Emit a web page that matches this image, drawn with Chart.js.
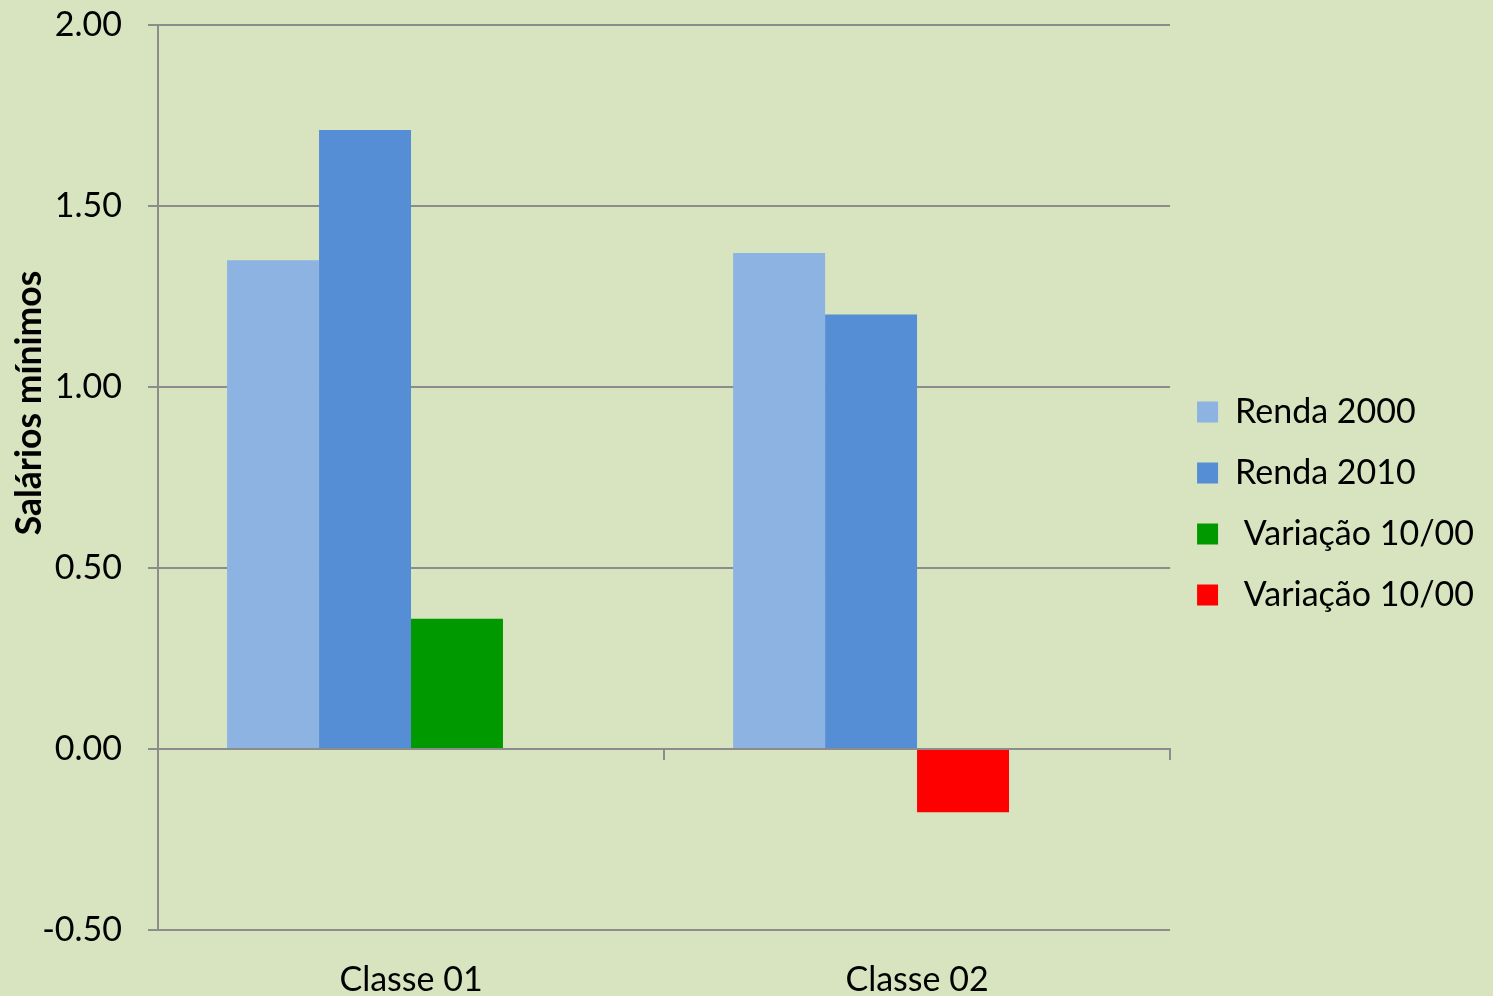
<!DOCTYPE html>
<html><head><meta charset="utf-8">
<script src="https://cdn.jsdelivr.net/npm/chart.js@4"></script>
<style>html,body{margin:0;padding:0;background:#d8e4bf;overflow:hidden}#wrap{width:1493px;height:996px;position:relative}</style>
</head><body><div id="wrap"><canvas id="c" width="1493" height="996"></canvas></div>
<script>
const categories = ['Classe 01', 'Classe 02'];
const renda2000 = [1.35, 1.37];
const renda2010 = [1.71, 1.20];
const variacao = [0.36, -0.175];
const variacaoExtra = [null, null];
const seriesLabels = ['Renda 2000', 'Renda 2010', ' Variação 10/00', ' Variação 10/00'];
const yAxisTitle = 'Salários mínimos';
const yMin = -0.5, yMax = 2.0, yStep = 0.5;

const colLight = '#8db3e2', colDark = '#558ed5', colGreen = '#009900', colRed = '#ff0000';
const legendColors = [colLight, colDark, colGreen, colRed];
const gridCol = '#8c8c8c';
const FONT = 'Lato, "Open Sans", sans-serif';

const yTitlePlugin = {
  id: 'yTitle',
  afterDraw(chart) {
    const c = chart.ctx;
    c.save();
    c.translate(30, 403);
    c.rotate(-Math.PI / 2);
    c.font = 'bold 35.5px ' + FONT;
    c.fillStyle = '#000';
    c.textAlign = 'center';
    c.textBaseline = 'middle';
    c.fillText(yAxisTitle, 0, 0);
    c.restore();
  }
};

new Chart(document.getElementById('c'), {
  type: 'bar',
  data: {
    labels: categories,
    datasets: [
      { label: seriesLabels[0], data: renda2000, backgroundColor: colLight },
      { label: seriesLabels[1], data: renda2010, backgroundColor: colDark },
      { label: seriesLabels[2], data: variacao, backgroundColor: [colGreen, colRed] },
      { label: seriesLabels[3], data: variacaoExtra, backgroundColor: colRed }
    ]
  },
  options: {
    responsive: false,
    animation: false,
    layout: { padding: { top: 11, bottom: 0, left: 0, right: 9 } },
    datasets: { bar: { categoryPercentage: 0.727, barPercentage: 1.0 } },
    scales: {
      x: {
        grid: { display: false },
        border: { display: false },
        ticks: { color: '#000', font: { family: FONT, size: 34 }, padding: 22, maxRotation: 0 },
        afterFit(s) { s.height = 66; }
      },
      x2: {
        type: 'category',
        position: { y: 0 },
        offset: true,
        z: 1,
        grid: { offset: true, drawOnChartArea: false, drawTicks: true, tickLength: 10, color: gridCol, lineWidth: 2 },
        border: { display: true, color: gridCol, width: 2 },
        ticks: { display: false }
      },
      y: {
        min: yMin, max: yMax,
        ticks: { stepSize: yStep, color: '#000', font: { family: FONT, size: 34 }, padding: 26,
                 callback: v => Number(v).toFixed(2) },
        grid: { color: gridCol, lineWidth: 2, tickLength: 10 },
        border: { display: true, color: gridCol, width: 2 },
        afterFit(s) { s.width = 158; s.paddingTop = 25; }
      }
    },
    plugins: {
      tooltip: { enabled: false },
      legend: {
        position: 'right',
        labels: {
          color: '#000',
          font: { family: FONT, size: 34 },
          boxWidth: 21, boxHeight: 21,
          padding: 27,
          generateLabels(chart) {
            return chart.data.datasets.map((ds, i) => ({
              text: ds.label, fillStyle: legendColors[i], strokeStyle: legendColors[i],
              lineWidth: 0, hidden: false, datasetIndex: i
            }));
          }
        }
      }
    }
  },
  plugins: [yTitlePlugin]
});
</script>
</body></html>
